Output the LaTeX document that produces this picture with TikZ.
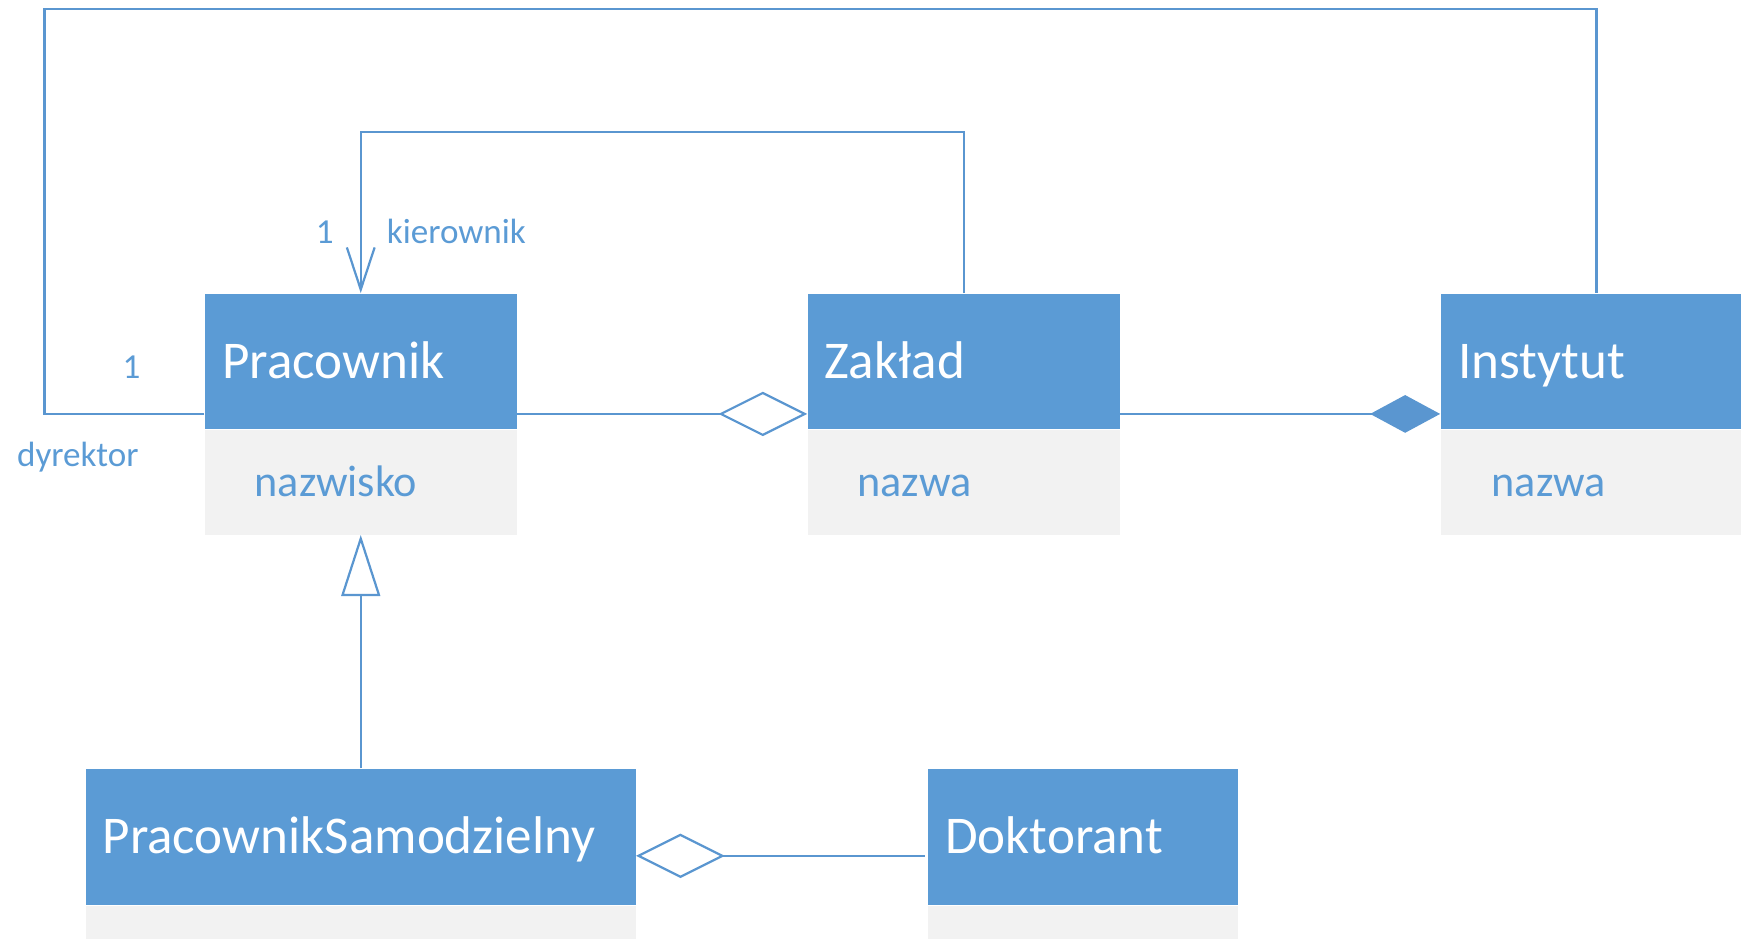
\documentclass[tikz,border=0pt]{standalone}
\usepackage{fontspec}
\setmainfont{Carlito}
\usetikzlibrary{arrows.meta}
\definecolor{hdrblue}{HTML}{5B9BD5}
\definecolor{lineblue}{HTML}{5A96D0}
\definecolor{attrgray}{HTML}{F2F2F2}
\tikzset{
  hdr/.style={fill=hdrblue, draw=none, inner sep=0pt, anchor=north west},
  attrbox/.style={fill=attrgray, draw=none, inner sep=0pt, anchor=north west},
  htext/.style={text=white, font=\fontsize{23.9pt}{28pt}\selectfont, anchor=base west, inner sep=0pt},
  atext/.style={text=hdrblue, font=\fontsize{19.9pt}{24pt}\selectfont, anchor=base west, inner sep=0pt},
  lbl/.style={text=hdrblue, font=\fontsize{15.8pt}{19pt}\selectfont, anchor=base west, inner sep=0pt},
  conn/.style={draw=lineblue, line width=1pt},
}
\begin{document}
\begin{tikzpicture}[x=0.5pt, y=-0.5pt]
\useasboundingbox (0,0) rectangle (1568,845);
\clip (0,0) rectangle (1568,845);
% boxes
\node[hdr, minimum width=140.5pt, minimum height=61pt] (pH) at (184,264) {};
\node[attrbox, minimum width=140.5pt, minimum height=47pt] (pA) at (184,387) {};
\node[hdr, minimum width=140.5pt, minimum height=61pt] (zH) at (727,264) {};
\node[attrbox, minimum width=140.5pt, minimum height=47pt] (zA) at (727,387) {};
\node[hdr, minimum width=140.5pt, minimum height=61pt] (iH) at (1297,264) {};
\node[attrbox, minimum width=140.5pt, minimum height=47pt] (iA) at (1297,387) {};
\node[hdr, minimum width=247.5pt, minimum height=61.5pt] (psH) at (77,692) {};
\node[attrbox, minimum width=247.5pt, minimum height=20pt] (psA) at (77,816) {};
\node[hdr, minimum width=140pt, minimum height=61.5pt] (dH) at (835,692) {};
\node[attrbox, minimum width=140pt, minimum height=20pt] (dA) at (835,816) {};
% texts
\node[htext] (pT) at (200,341) {Pracownik};
\node[atext] (pAT) at (229,447) {nazwisko};
\node[htext] (zT) at (742,341) {Zakład};
\node[atext] (zAT) at (772,447) {nazwa};
\node[htext] (iT) at (1313,341) {Instytut};
\node[atext] (iAT) at (1343,447) {nazwa};
\node[htext] (psT) at (92,769) {PracownikSamodzielny};
\node[htext] (dT) at (851,769) {Doktorant};
% labels
\node[lbl] (l1a) at (284,219) {1};
\node[lbl] (lkier) at (348,219) {kierownik};
\node[lbl] (l1b) at (110,341) {1};
\node[lbl] (ldyr) at (15,420) {dyrektor};
% connectors
\coordinate (topL) at (40,8);
\coordinate (kY) at (0,119);
\draw[conn] ([yshift=7pt]pH.south west) -| (topL) -| (iH.north);
\draw[conn, -{Straight Barb[length=19pt, width=12.5pt, line width=1pt]}] (zH.north) -- (zH.north |- kY) -| (pH.north);
\draw[conn, -{Diamond[open, length=40pt, width=20pt, fill=white]}] ([yshift=7pt]pH.south east) -- ([yshift=7pt]zH.south west);
\draw[conn, -{Diamond[length=31.5pt, width=17pt, fill=lineblue]}] ([yshift=7pt]zH.south east) -- ([yshift=7pt]iH.south west);
\draw[conn, -{Triangle[open, length=27.5pt, width=17.5pt, fill=white]}] (psH.north) -- (pA.south);
\draw[conn, -{Diamond[open, length=40pt, width=20pt, fill=white]}] ([yshift=22.5pt, xshift=-1pt]dH.south west) -- ([yshift=22.5pt]psH.south east);
\end{tikzpicture}
\end{document}
